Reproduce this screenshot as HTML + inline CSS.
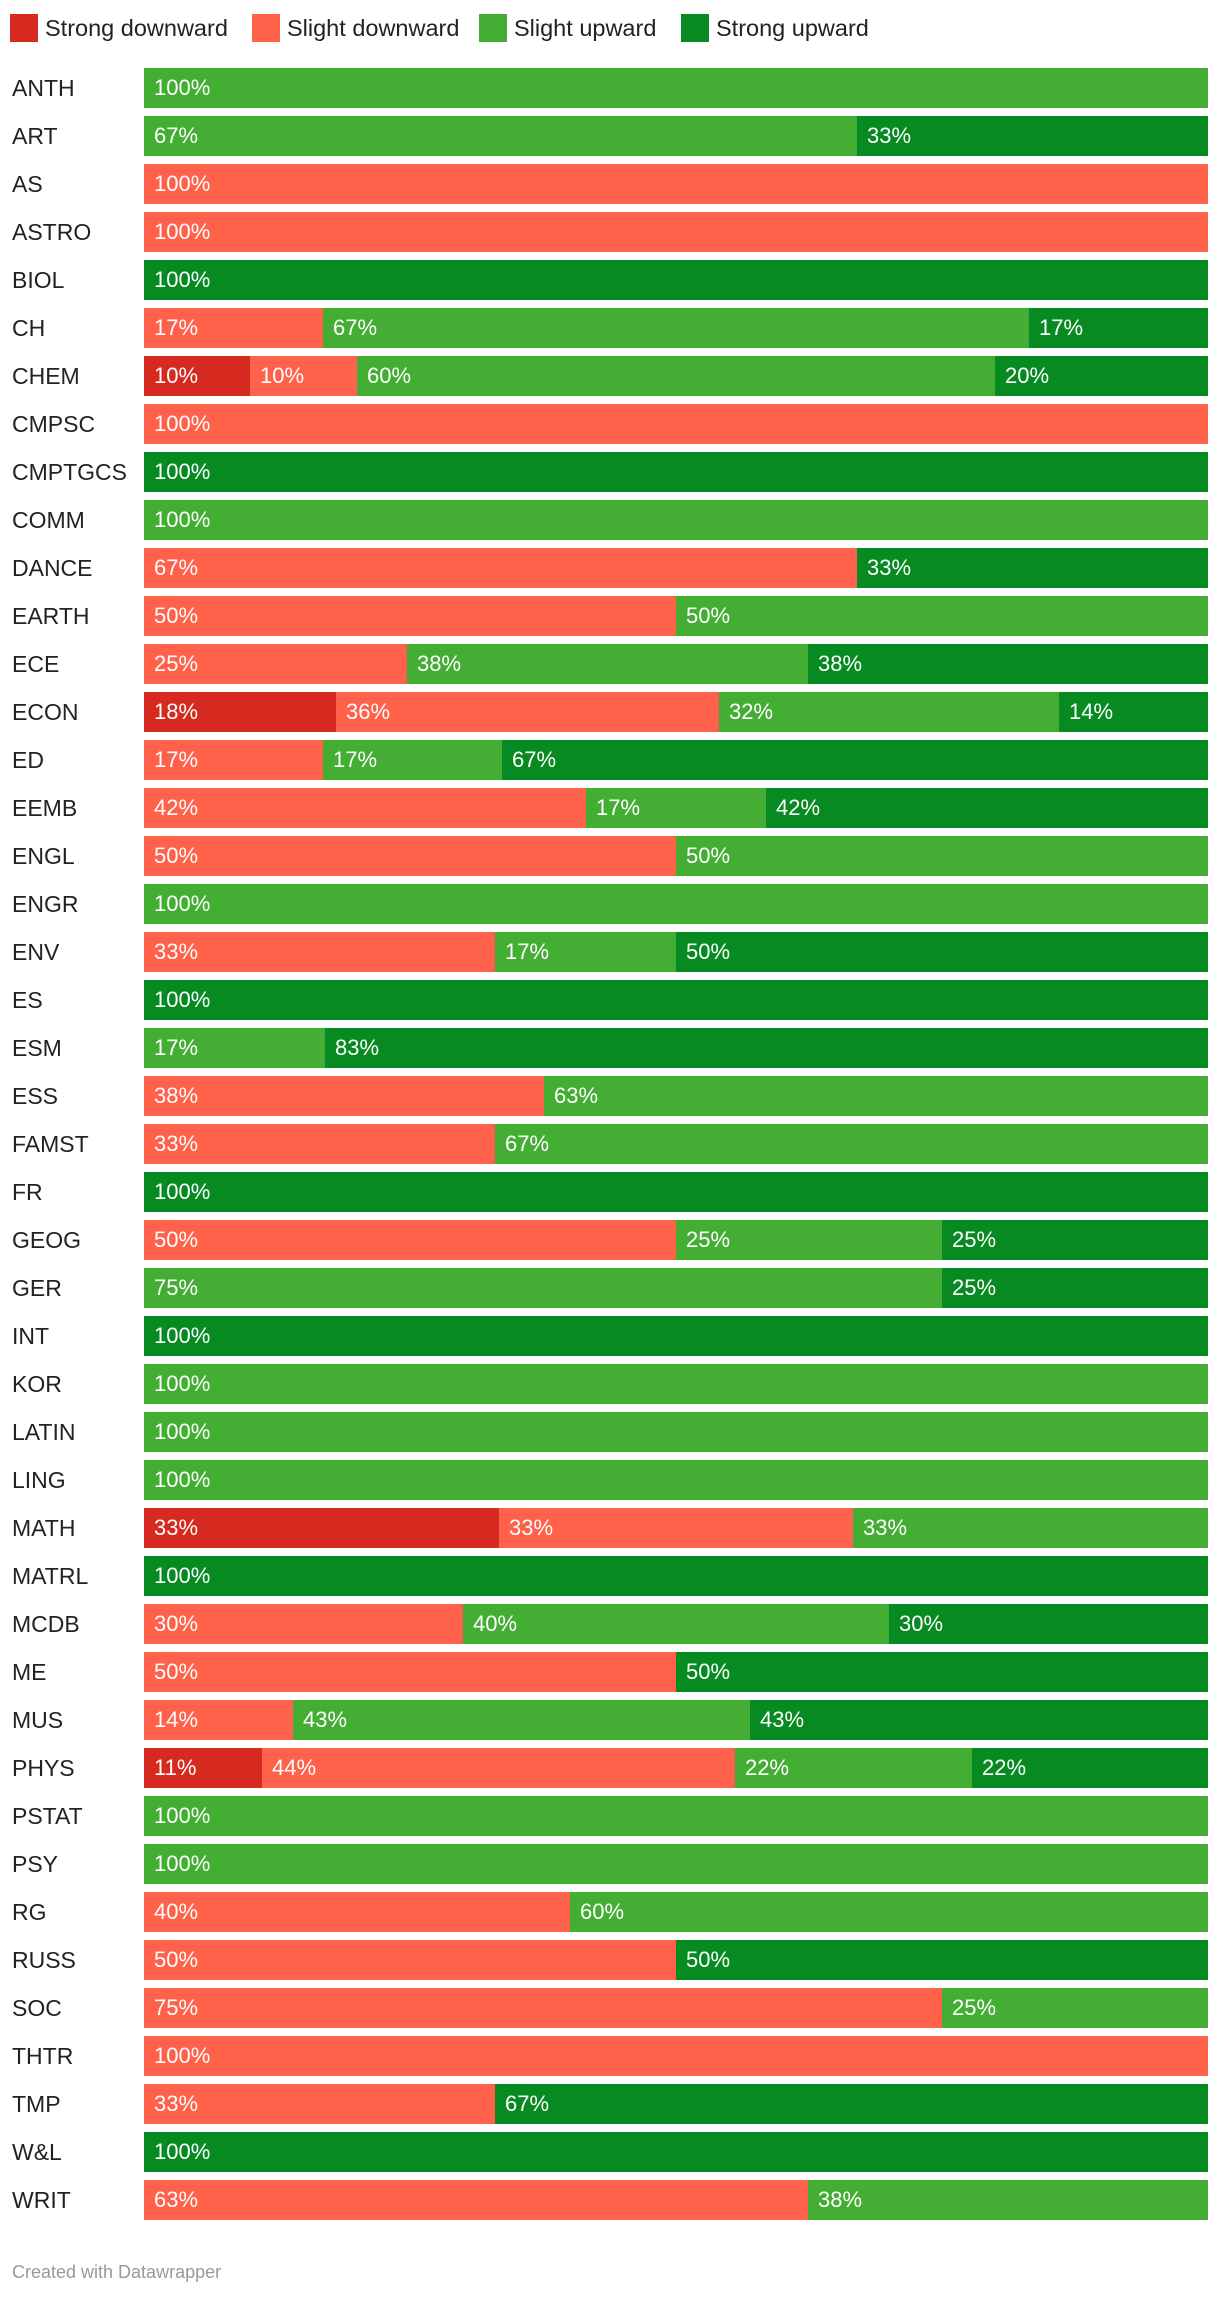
<!DOCTYPE html>
<html><head><meta charset="utf-8">
<style>
body{margin:0;background:#fff;width:1220px;height:2298px;position:relative;font-family:"Liberation Sans",sans-serif;overflow:hidden}
.leg{position:absolute;top:14px;height:28px;font-size:23.5px;color:#222;line-height:28px;white-space:nowrap}
.leg span.sw{display:inline-block;width:28px;height:28px;vertical-align:top;margin-right:7px}
.lab{position:absolute;left:12px;font-size:23px;color:#222;height:40px;line-height:40px}
.seg{position:absolute;height:40px;line-height:40px;color:#fff;font-size:22px;box-sizing:border-box;padding-left:10px;white-space:nowrap;overflow:hidden}
#credit{position:absolute;left:12px;top:2262px;font-size:18px;color:#999}
</style></head><body>
<div class="leg" style="left:10px"><span class="sw" style="background:#d62a20"></span>Strong downward</div>
<div class="leg" style="left:252px"><span class="sw" style="background:#ff614a"></span>Slight downward</div>
<div class="leg" style="left:479px"><span class="sw" style="background:#44ad33"></span>Slight upward</div>
<div class="leg" style="left:681px"><span class="sw" style="background:#078a22"></span>Strong upward</div>
<div id="chart"></div>
<div id="credit">Created with Datawrapper</div>
<script>
const categories=["ANTH","ART","AS","ASTRO","BIOL","CH","CHEM","CMPSC","CMPTGCS","COMM","DANCE","EARTH","ECE","ECON","ED","EEMB","ENGL","ENGR","ENV","ES","ESM","ESS","FAMST","FR","GEOG","GER","INT","KOR","LATIN","LING","MATH","MATRL","MCDB","ME","MUS","PHYS","PSTAT","PSY","RG","RUSS","SOC","THTR","TMP","W&L","WRIT"];
const strongDown=[0,0,0,0,0,0,10,0,0,0,0,0,0,18,0,0,0,0,0,0,0,0,0,0,0,0,0,0,0,0,33,0,0,0,0,11,0,0,0,0,0,0,0,0,0];
const slightDown=[0,0,100,100,0,17,10,100,0,0,67,50,25,36,17,42,50,0,33,0,0,38,33,0,50,0,0,0,0,0,33,0,30,50,14,44,0,0,40,50,75,100,33,0,63];
const slightUp=[100,67,0,0,0,67,60,0,0,100,0,50,38,32,17,17,50,100,17,0,17,63,67,0,25,75,0,100,100,100,33,0,40,0,43,22,100,100,60,0,25,0,0,0,38];
const strongUp=[0,33,0,0,100,17,20,0,100,0,33,0,38,14,67,42,0,0,50,100,83,0,0,100,25,25,100,0,0,0,0,100,30,50,43,22,0,0,0,50,0,0,67,100,0];
const series=[strongDown,slightDown,slightUp,strongUp];
const colors=["#d62a20","#ff614a","#44ad33","#078a22"];
const names=["strong-downward","slight-downward","slight-upward","strong-upward"];
const X0=144,X1=1208,Y0=68,STEP=48;
const xs=v=>X0+(X1-X0)*v;
const ys=i=>Y0+i*STEP;
const chart=document.getElementById('chart');
categories.forEach((c,i)=>{
  const l=document.createElement('div');l.className='lab';l.style.top=ys(i)+'px';l.textContent=c;
  
  
  chart.appendChild(l);
  const tot=series.reduce((s,a)=>s+a[i],0);let acc=0;
  series.forEach((a,k)=>{const v=a[i];if(!v)return;
    const d=document.createElement('div');d.className='seg';
    const x0=Math.round(xs(acc/tot)),x1=Math.round(xs((acc+v)/tot));acc+=v;
    d.style.left=x0+'px';d.style.width=(x1-x0)+'px';d.style.top=ys(i)+'px';d.style.background=colors[k];
    d.textContent=v+'%';
    
    
    chart.appendChild(d);});
});
</script>
</body></html>
